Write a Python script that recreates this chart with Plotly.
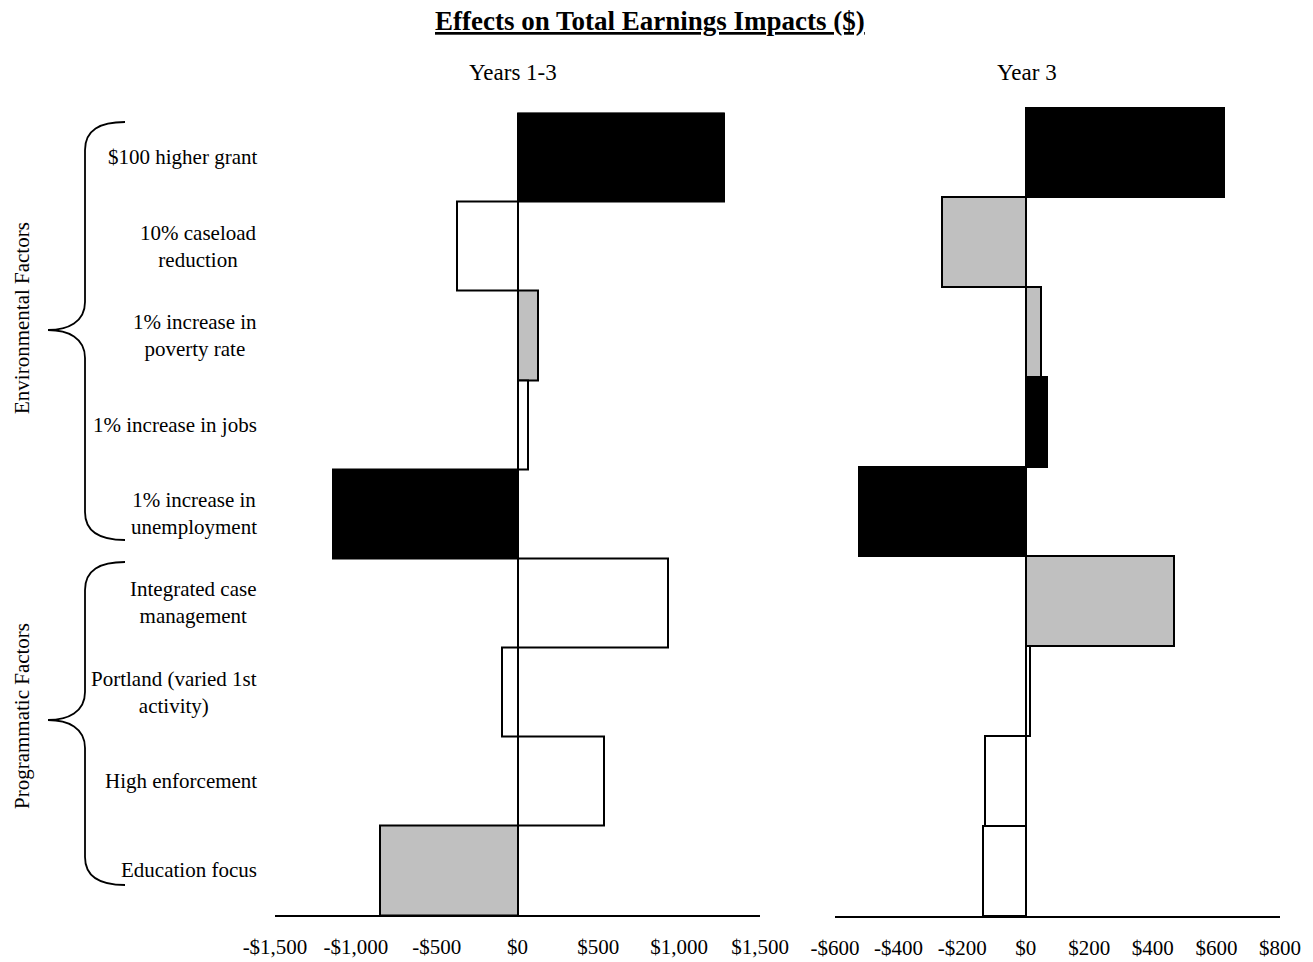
import plotly.graph_objects as go

# ---------------- data ----------------
categories = [
    "$100 higher grant",
    "10% caseload<br>reduction",
    "1% increase in<br>poverty rate",
    "1% increase in jobs",
    "1% increase in<br>unemployment",
    "Integrated case<br>management",
    "Portland (varied 1st<br>activity)",
    "High enforcement",
    "Education focus",
]
cat_ids = ["c%d" % i for i in range(len(categories))]

years13_values = [1275, -373, 126, 66, -1144, 932, -95, 534, -853]
years13_colors = ["black", "white", "gray", "white", "black", "white", "white", "white", "gray"]

year3_values = [625, -262, 48, 66, -525, 465, 12, -128, -133]
year3_colors = ["black", "gray", "gray", "black", "black", "gray", "white", "white", "white"]

left_ticks = [-1500, -1000, -500, 0, 500, 1000, 1500]
right_ticks = [-600, -400, -200, 0, 200, 400, 600, 800]

group_labels = ["Environmental Factors", "Programmatic Factors"]

# ---------------- style ----------------
W, H = 1313, 962
FONT = "Liberation Serif"
fill_map = {"black": "#000000", "gray": "#C0C0C0", "white": "#FFFFFF"}


def money(v):
    return ("-$" if v < 0 else "$") + "{:,}".format(abs(v))


def px_x(x):
    return x / W


def px_y(y):
    return 1 - y / H


fig = go.Figure()

fig.add_trace(go.Bar(
    x=years13_values, y=cat_ids, orientation="h",
    marker=dict(color=[fill_map[c] for c in years13_colors],
                line=dict(color="black", width=2)),
    width=1.0, xaxis="x", yaxis="y", showlegend=False, hoverinfo="x",
))
fig.add_trace(go.Bar(
    x=year3_values, y=cat_ids, orientation="h",
    marker=dict(color=[fill_map[c] for c in year3_colors],
                line=dict(color="black", width=2)),
    width=1.0, xaxis="x2", yaxis="y2", showlegend=False, hoverinfo="x",
))

xcommon = dict(showgrid=False, zeroline=False, showline=True, linecolor="black",
               linewidth=2, ticks="", automargin=False,
               tickfont=dict(family=FONT, size=21, color="black"),
               ticklabelstandoff=12, fixedrange=True)
ycommon = dict(showgrid=False, zeroline=False, showline=False, ticks="",
               showticklabels=False, automargin=False,
               categoryorder="array", categoryarray=cat_ids,
               autorange="reversed", fixedrange=True)

fig.update_layout(
    template="none",
    width=W, height=H,
    margin=dict(l=0, r=0, t=0, b=0, pad=0, autoexpand=False),
    paper_bgcolor="white", plot_bgcolor="white",
    bargap=0,
    xaxis=dict(domain=[px_x(275), px_x(760)], range=[-1500, 1500],
               tickvals=left_ticks, ticktext=[money(v) for v in left_ticks],
               anchor="y", **xcommon),
    yaxis=dict(domain=[px_y(915), px_y(112.5)], anchor="x", **ycommon),
    xaxis2=dict(domain=[px_x(835), px_x(1280)], range=[-600, 800],
                tickvals=right_ticks, ticktext=[money(v) for v in right_ticks],
                anchor="y2", **xcommon),
    yaxis2=dict(domain=[px_y(916), px_y(107)], anchor="x2", **ycommon),
)

annotations = []
# title
annotations.append(dict(text="<b><u>Effects on Total Earnings Impacts ($)</u></b>",
                        x=px_x(650), y=px_y(21), xref="paper", yref="paper",
                        xanchor="center", yanchor="middle", showarrow=False,
                        font=dict(family=FONT, size=27, color="black")))
# panel subtitles
annotations.append(dict(text="Years 1-3", x=px_x(513), y=px_y(72), xref="paper", yref="paper",
                        xanchor="center", yanchor="middle", showarrow=False,
                        font=dict(family=FONT, size=23, color="black")))
annotations.append(dict(text="Year 3", x=px_x(1027), y=px_y(72), xref="paper", yref="paper",
                        xanchor="center", yanchor="middle", showarrow=False,
                        font=dict(family=FONT, size=23, color="black")))
# category labels (centred multi-line, right-aligned block)
for cid, lab in zip(cat_ids, categories):
    annotations.append(dict(text=lab, x=px_x(259), y=cid, xref="paper", yref="y",
                            xanchor="right", yanchor="middle", align="center",
                            showarrow=False,
                            font=dict(family=FONT, size=21, color="black")))
# group labels (rotated)
for lab, yc in zip(group_labels, [318, 716]):
    annotations.append(dict(text=lab, x=px_x(22), y=px_y(yc), xref="paper", yref="paper",
                            xanchor="center", yanchor="middle", textangle=-90,
                            showarrow=False,
                            font=dict(family=FONT, size=21, color="black")))
fig.update_layout(annotations=annotations)


# curly braces
def brace(top, tip, bot, x_end=125, x_v=85, x_tip=48, r=28):
    def P(x, y):
        return "%.5f,%.5f" % (px_x(x), px_y(y))
    path = "M" + P(x_end, top)
    path += " C" + P(x_end - 25, top) + " " + P(x_v, top + 8) + " " + P(x_v, top + r)
    path += " L" + P(x_v, tip - r)
    path += " C" + P(x_v, tip - 8) + " " + P(x_tip + 20, tip) + " " + P(x_tip, tip)
    path += " C" + P(x_tip + 20, tip) + " " + P(x_v, tip + 8) + " " + P(x_v, tip + r)
    path += " L" + P(x_v, bot - r)
    path += " C" + P(x_v, bot - 8) + " " + P(x_end - 25, bot) + " " + P(x_end, bot)
    return dict(type="path", path=path, xref="paper", yref="paper",
                line=dict(color="black", width=1.8))

fig.update_layout(shapes=[brace(122, 330, 540), brace(562, 720, 885)])

fig.write_html(
    "out.html",
    config={"displayModeBar": False},
    post_script="document.body.style.margin='0';document.body.style.overflow='hidden';",
)
